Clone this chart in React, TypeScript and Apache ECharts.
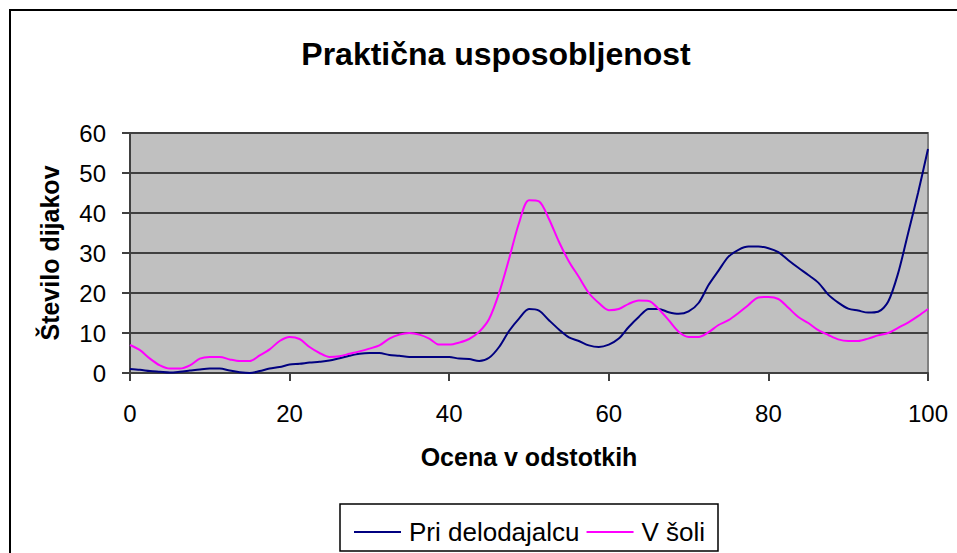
import React, { useEffect, useRef } from "react";
import * as echarts from "echarts";

const title = "Praktična usposobljenost";
const yAxisName = "Število dijakov";
const xAxisName = "Ocena v odstotkih";
const seriesNames = ["Pri delodajalcu", "V šoli"];

// score positions (percent)
const scores: number[] = Array.from({ length: 81 }, (_, i) => i * 1.25);

const employerValues: number[] = [
  1.0, 0.8, 0.5, 0.3, 0.1, 0.3, 0.6, 0.9, 1.1, 1.1,
  0.6, 0.2, 0.0, 0.5, 1.1, 1.5, 2.1, 2.3, 2.6, 2.8,
  3.1, 3.7, 4.3, 4.8, 5.0, 5.0, 4.5, 4.3, 4.0, 4.0,
  4.0, 4.0, 4.0, 3.6, 3.5, 3.0, 3.8, 6.5, 10.5, 13.6,
  16.0, 15.6, 13.2, 10.9, 8.9, 8.0, 6.9, 6.5, 7.1, 8.6,
  11.5, 14.0, 16.0, 16.0, 15.2, 14.8, 15.4, 17.5, 22.0, 25.6,
  29.1, 30.8, 31.6, 31.6, 31.2, 30.2, 28.2, 26.3, 24.5, 22.6,
  19.6, 17.6, 16.1, 15.6, 15.1, 15.3, 17.8, 24.9, 34.9, 45.0,
  56.0,
];

const schoolValues: number[] = [
  7.0, 5.7, 3.6, 1.9, 1.1, 1.1, 1.9, 3.6, 4.0, 4.0,
  3.4, 3.0, 3.0, 4.4, 5.9, 8.0, 9.0, 8.5, 6.5, 5.0,
  4.0, 4.2, 4.8, 5.4, 6.1, 6.9, 8.6, 9.6, 10.0, 9.6,
  8.6, 7.1, 7.1, 7.6, 8.5, 10.3, 13.5, 20.0, 28.5, 37.5,
  43.2, 42.9, 38.5, 32.8, 27.9, 24.0, 20.0, 17.5, 15.7, 16.0,
  17.3, 18.1, 18.0, 16.0, 13.2, 10.3, 9.0, 9.0, 10.2, 12.0,
  13.2, 15.0, 17.0, 18.9, 19.0, 18.5, 16.3, 14.0, 12.5, 10.7,
  9.5, 8.4, 8.0, 8.0, 8.6, 9.4, 10.0, 11.3, 12.6, 14.2,
  16.0,
];

const colors = ["#000080", "#FF00FF"];

export default function App() {
  const ref = useRef<HTMLDivElement>(null);
  useEffect(() => {
    if (!ref.current) return;
    const chart = echarts.init(ref.current, null, { renderer: "svg" });
    const font = "Liberation Sans, Arial, sans-serif";
    chart.setOption({
      animation: false,
      backgroundColor: "#ffffff",
      textStyle: { fontFamily: font },
      title: {
        text: title,
        left: 491,
        textAlign: "center",
        top: 33,
        textStyle: { fontSize: 32, fontWeight: "bold", color: "#000", fontFamily: font },
      },
      grid: { left: 130, right: 29, top: 133, bottom: 180, show: true, backgroundColor: "#C0C0C0", borderColor: "#808080", borderWidth: 2 },
      xAxis: {
        type: "value",
        min: 0,
        max: 100,
        interval: 20,
        name: xAxisName,
        nameLocation: "middle",
        nameGap: 71,
        nameTextStyle: { fontSize: 25, fontWeight: "bold", color: "#000", fontFamily: font },
        axisLine: { show: true, lineStyle: { color: "#404040", width: 2 } },
        axisTick: { show: true, length: 8, lineStyle: { color: "#404040", width: 2 } },
        axisLabel: { fontSize: 24, color: "#000", margin: 28, fontFamily: font },
        splitLine: { show: false },
      },
      yAxis: {
        type: "value",
        min: 0,
        max: 60,
        interval: 10,
        name: yAxisName,
        nameLocation: "middle",
        nameGap: 68,
        nameTextStyle: { fontSize: 25, fontWeight: "bold", color: "#000", fontFamily: font },
        axisLine: { show: true, lineStyle: { color: "#404040", width: 2 } },
        axisTick: { show: true, length: 8, lineStyle: { color: "#404040", width: 2 } },
        axisLabel: { fontSize: 24, color: "#000", margin: 24, fontFamily: font },
        splitLine: { show: true, lineStyle: { color: "#404040", width: 2 } },
      },
      legend: {
        left: 349,
        top: 514,
        icon: "rect",
        itemWidth: 47,
        itemHeight: 2,
        itemGap: 7,
        textStyle: { fontSize: 26, color: "#000", fontFamily: font, padding: [0, 0, 0, 3] },
        data: seriesNames,
      },
      graphic: [
        {
          type: "rect",
          shape: { x: 10, y: 10, width: 1000, height: 1000 },
          style: { fill: "none", stroke: "#000", lineWidth: 2 },
          silent: true,
          z: -1,
        },
        {
          type: "rect",
          shape: { x: 340, y: 504, width: 378, height: 47 },
          style: { fill: "none", stroke: "#000", lineWidth: 1.5 },
          silent: true,
        },
      ],
      series: [
        {
          name: seriesNames[0],
          type: "line",
          data: scores.map((s, i) => [s, employerValues[i]]),
          symbol: "none",
          smooth: 0.3,
          lineStyle: { color: colors[0], width: 2 },
          itemStyle: { color: colors[0] },
        },
        {
          name: seriesNames[1],
          type: "line",
          data: scores.map((s, i) => [s, schoolValues[i]]),
          symbol: "none",
          smooth: 0.3,
          lineStyle: { color: colors[1], width: 2 },
          itemStyle: { color: colors[1] },
        },
      ],
    });
    return () => chart.dispose();
  }, []);
  return (
    <div
      ref={ref}
      style={{ position: "fixed", left: 0, top: 0, width: 957, height: 553 }}
    />
  );
}
